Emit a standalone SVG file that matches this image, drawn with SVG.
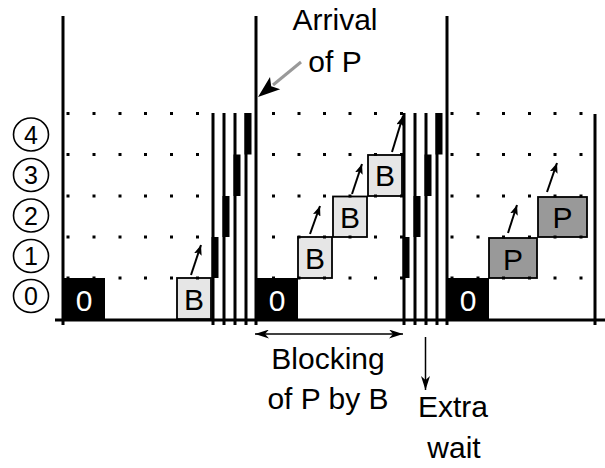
<svg xmlns="http://www.w3.org/2000/svg" width="605" height="468" viewBox="0 0 605 468">
<style>
.t{font-family:"Liberation Sans",Arial,sans-serif;font-size:30px;fill:#000;text-anchor:middle}
.n{font-family:"Liberation Sans",Arial,sans-serif;font-size:25px;fill:#000;text-anchor:middle}
.w{fill:#fff}
.ax{stroke:#000;stroke-width:3;fill:none}
.st{stroke:#000;stroke-width:3;fill:none}
.blk{fill:#000}
.bb{fill:#e6e6e6;stroke:#000;stroke-width:1.8}
.pb{fill:#999;stroke:#000;stroke-width:1.8}
.k{fill:#000;stroke:none}
.c{fill:#fff;stroke:#000;stroke-width:1.6}
.a{stroke:#000;stroke-width:2;fill:none}
.thin{stroke:#000;stroke-width:1.5;fill:none}
</style>
<defs>
<marker id="sa" markerUnits="userSpaceOnUse" markerWidth="10" markerHeight="8" refX="10" refY="4" orient="auto"><path d="M0,0 L10,4 L0,8 L2,4 z" fill="#000"/></marker>
<marker id="la" markerUnits="userSpaceOnUse" markerWidth="14" markerHeight="9" refX="14" refY="4.5" orient="auto-start-reverse"><path d="M0,0 L14,4.5 L0,9 L4,4.5 z" fill="#000"/></marker>
</defs>
<g id="labels-rows">
<g id="row4"><ellipse class="c" cx="31" cy="134.5" rx="17.5" ry="16.5"/><text class="n" x="31" y="143.5">4</text></g>
<g id="row3"><ellipse class="c" cx="31" cy="175" rx="17.5" ry="16.5"/><text class="n" x="31" y="184">3</text></g>
<g id="row2"><ellipse class="c" cx="31" cy="215.5" rx="17.5" ry="16.5"/><text class="n" x="31" y="224.5">2</text></g>
<g id="row1"><ellipse class="c" cx="31" cy="256" rx="17.5" ry="16.5"/><text class="n" x="31" y="265">1</text></g>
<g id="row0"><ellipse class="c" cx="31" cy="296" rx="17.5" ry="16.5"/><text class="n" x="31" y="305">0</text></g>
</g>
<g id="axes">
<path class="ax" d="M63,16 V325 M256,16 V325 M447,16 V325 M595,114 V325 M55,320 H605"/>
</g>
<g id="stripes">
<path class="st" d="M213,113 V325 M224,113 V325 M235,113 V325 M246,113 V325 M404,113 V325 M415,113 V325 M426,113 V325 M437,113 V325"/>
<rect class="blk" x="211.5" y="237" width="7" height="41"/>
<rect class="blk" x="222.5" y="196" width="7" height="41"/>
<rect class="blk" x="233.5" y="154.5" width="7" height="41.5"/>
<rect class="blk" x="244.5" y="113" width="7" height="41.5"/>
<rect class="blk" x="402.5" y="237" width="7" height="41"/>
<rect class="blk" x="413.5" y="196" width="7" height="41"/>
<rect class="blk" x="424.5" y="154.5" width="7" height="41.5"/>
<rect class="blk" x="435.5" y="113" width="7" height="41.5"/>
</g>
<g id="box-0a"><rect class="blk" x="63" y="278" width="42" height="42"/><text class="t w" x="84" y="310.5">0</text></g>
<g id="box-Ba"><rect class="bb" x="177" y="278" width="34" height="41"/><text class="t" x="194" y="309.5">B</text></g>
<g id="box-0b"><rect class="blk" x="256" y="278" width="42" height="42"/><text class="t w" x="277" y="310.5">0</text></g>
<g id="box-B1"><rect class="bb" x="298" y="237" width="34" height="41"/><text class="t" x="315" y="268.5">B</text></g>
<g id="box-B2"><rect class="bb" x="333" y="196.5" width="34" height="40.5"/><text class="t" x="350" y="227.5">B</text></g>
<g id="box-B3"><rect class="bb" x="368" y="155" width="34" height="41"/><text class="t" x="385" y="186">B</text></g>
<g id="box-0c"><rect class="blk" x="447" y="278" width="42" height="42"/><text class="t w" x="468" y="310.5">0</text></g>
<g id="box-P1"><rect class="pb" x="489" y="238" width="48" height="40"/><text class="t" x="513" y="269.5">P</text></g>
<g id="box-P2"><rect class="pb" x="538" y="197" width="49" height="40"/><text class="t" x="562.5" y="228">P</text></g>
<g id="grid">
<path class="k" d="M66.5,112h3v3h-3z M92.5,112h3v3h-3z M118.5,112h3v3h-3z M144,112h3v3h-3z M170,112h3v3h-3z M196,112h3v3h-3z
M66.5,153h3v3h-3z M92.5,153h3v3h-3z M118.5,153h3v3h-3z M144,153h3v3h-3z M170,153h3v3h-3z M196,153h3v3h-3z
M66.5,194.5h3v3h-3z M92.5,194.5h3v3h-3z M118.5,194.5h3v3h-3z M144,194.5h3v3h-3z M170,194.5h3v3h-3z M196,194.5h3v3h-3z
M66.5,235.5h3v3h-3z M92.5,235.5h3v3h-3z M118.5,235.5h3v3h-3z M144,235.5h3v3h-3z M170,235.5h3v3h-3z M196,235.5h3v3h-3z
M66.5,276.5h3v3h-3z M92.5,276.5h3v3h-3z M118.5,276.5h3v3h-3z M144,276.5h3v3h-3z M170,276.5h3v3h-3z M196,276.5h3v3h-3z"/>
<path class="k" d="M272,112h3v3h-3z M297.5,112h3v3h-3z M323,112h3v3h-3z M348.5,112h3v3h-3z M374,112h3v3h-3z M400,112h3v3h-3z
M272,153h3v3h-3z M297.5,153h3v3h-3z M323,153h3v3h-3z M348.5,153h3v3h-3z M374,153h3v3h-3z M400,153h3v3h-3z
M272,194.5h3v3h-3z M297.5,194.5h3v3h-3z M323,194.5h3v3h-3z M348.5,194.5h3v3h-3z M374,194.5h3v3h-3z M400,194.5h3v3h-3z
M272,235.5h3v3h-3z M297.5,235.5h3v3h-3z M323,235.5h3v3h-3z M348.5,235.5h3v3h-3z M374,235.5h3v3h-3z M400,235.5h3v3h-3z
M272,276.5h3v3h-3z M297.5,276.5h3v3h-3z M323,276.5h3v3h-3z M348.5,276.5h3v3h-3z M374,276.5h3v3h-3z M400,276.5h3v3h-3z"/>
<path class="k" d="M450.5,112h3v3h-3z M476.5,112h3v3h-3z M502,112h3v3h-3z M528,112h3v3h-3z M553.5,112h3v3h-3z M579.5,112h3v3h-3z
M450.5,153h3v3h-3z M476.5,153h3v3h-3z M502,153h3v3h-3z M528,153h3v3h-3z M553.5,153h3v3h-3z M579.5,153h3v3h-3z
M450.5,194.5h3v3h-3z M476.5,194.5h3v3h-3z M502,194.5h3v3h-3z M528,194.5h3v3h-3z M553.5,194.5h3v3h-3z M579.5,194.5h3v3h-3z
M450.5,235.5h3v3h-3z M476.5,235.5h3v3h-3z M502,235.5h3v3h-3z M528,235.5h3v3h-3z M553.5,235.5h3v3h-3z M579.5,235.5h3v3h-3z
M450.5,276.5h3v3h-3z M476.5,276.5h3v3h-3z M502,276.5h3v3h-3z M528,276.5h3v3h-3z M553.5,276.5h3v3h-3z M579.5,276.5h3v3h-3z"/>
</g>
<g id="connectors">
<line class="a" x1="191" y1="275" x2="201" y2="245" marker-end="url(#sa)"/>
<line class="a" x1="310" y1="234" x2="320" y2="206" marker-end="url(#sa)"/>
<line class="a" x1="352" y1="194" x2="362" y2="164" marker-end="url(#sa)"/>
<line class="a" x1="392" y1="152" x2="403" y2="116" marker-end="url(#sa)"/>
<line class="a" x1="508" y1="233" x2="517" y2="205" marker-end="url(#sa)"/>
<line class="a" x1="547" y1="192" x2="557" y2="163" marker-end="url(#sa)"/>
<line x1="301" y1="62" x2="273" y2="85" stroke="#999" stroke-width="3"/>
<path d="M258,97 L280.2,89.3 L271.2,86.3 L270,76.9 z" fill="#000"/>
<line class="thin" x1="255" y1="334" x2="403" y2="334" marker-start="url(#la)" marker-end="url(#la)"/>
<line class="thin" x1="425.5" y1="337" x2="425.5" y2="390" marker-end="url(#la)"/>
</g>
<g id="texts">
<text class="t" x="335" y="30">Arrival</text>
<text class="t" x="335" y="71.5">of P</text>
<text class="t" x="328" y="368.5">Blocking</text>
<text class="t" x="328" y="408.5">of P by B</text>
<text class="t" x="453" y="417">Extra</text>
<text class="t" x="454" y="458">wait</text>
</g>
</svg>
